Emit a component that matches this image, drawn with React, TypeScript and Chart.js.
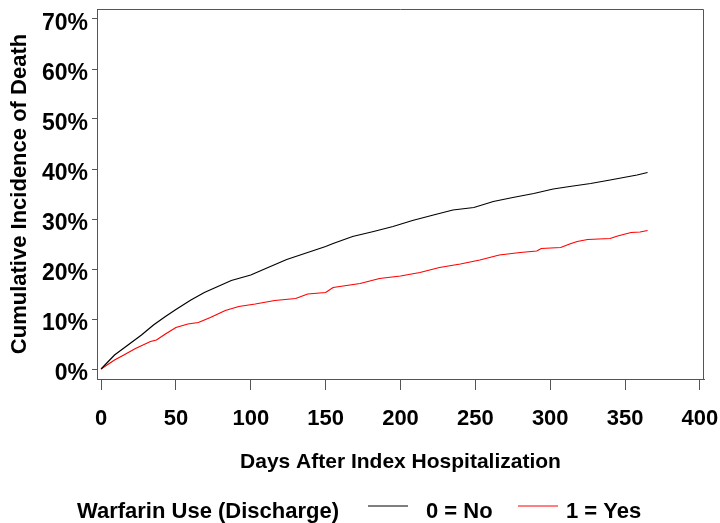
import React, { useEffect, useRef } from "react";
import { Chart, registerables } from "chart.js";

Chart.register(...registerables);

// Series: 0 = No (black)
const noDays = [0, 9, 18, 27, 35, 43, 50, 60, 69, 78, 87, 100, 110, 124, 136, 150, 155, 168, 182, 195, 208, 222, 235, 249, 262, 275, 289, 302, 313, 327, 340, 349, 358, 365];
const noPct = [0, 2.8, 4.8, 6.8, 8.8, 10.5, 11.9, 13.8, 15.3, 16.5, 17.7, 18.8, 20.1, 21.9, 23.1, 24.5, 25.1, 26.5, 27.5, 28.5, 29.7, 30.8, 31.8, 32.3, 33.5, 34.3, 35.1, 36.0, 36.5, 37.1, 37.8, 38.3, 38.8, 39.3];

// Series: 1 = Yes (red)
const yesDays = [0, 9, 14, 23, 33, 37, 43, 50, 58, 65, 73, 83, 92, 103, 116, 130, 138, 150, 155, 173, 186, 200, 213, 226, 240, 253, 266, 280, 291, 294, 307, 313, 318, 325, 340, 345, 354, 360, 365];
const yesPct = [0, 1.8, 2.6, 4.1, 5.5, 5.8, 7.0, 8.3, 9.0, 9.3, 10.3, 11.7, 12.5, 13.0, 13.7, 14.1, 15.0, 15.3, 16.3, 17.1, 18.1, 18.6, 19.3, 20.3, 21.0, 21.8, 22.8, 23.3, 23.6, 24.1, 24.3, 25.0, 25.5, 25.9, 26.1, 26.6, 27.3, 27.4, 27.7];

const seriesLabels = ["0 = No", "1 = Yes"];
const xTickValues = [0, 50, 100, 150, 200, 250, 300, 350, 400];
const yTickValues = [0, 10, 20, 30, 40, 50, 60, 70];

const legendTitle = "Warfarin Use (Discharge)";
const xTitle = "Days After Index Hospitalization";
const yTitle = "Cumulative Incidence of Death";

const FONT = '"Liberation Sans", Arial, Helvetica, sans-serif';
const AXIS_COLOR = "#555555";

const toPoints = (xs: number[], ys: number[]) => xs.map((x, i) => ({ x, y: ys[i] }));

const framePlugin = {
  id: "frame",
  afterDraw(chart: any) {
    const { ctx, chartArea: a } = chart;
    ctx.save();
    ctx.strokeStyle = AXIS_COLOR;
    ctx.lineWidth = 1;
    ctx.beginPath();
    ctx.moveTo(Math.round(a.left) + 0.5, Math.round(a.top) + 0.5);
    ctx.lineTo(Math.round(a.right) - 0.5, Math.round(a.top) + 0.5);
    ctx.lineTo(Math.round(a.right) - 0.5, Math.round(a.bottom) + 0.5);
    ctx.stroke();
    ctx.restore();
  },
};

const rowLegendPlugin = {
  id: "rowLegend",
  afterDraw(chart: any) {
    const ctx = chart.ctx;
    const baseline = 518;
    const lineY = 506;
    ctx.save();
    ctx.font = `bold 22px ${FONT}`;
    ctx.fillStyle = "#000";
    ctx.textAlign = "left";
    ctx.textBaseline = "alphabetic";
    ctx.fillText(legendTitle, 77, baseline);
    const slots = [
      { lineX: 368, textX: 426 },
      { lineX: 518, textX: 566 },
    ];
    chart.data.datasets.forEach((ds: any, i: number) => {
      const s = slots[i];
      ctx.strokeStyle = ds.borderColor;
      ctx.lineWidth = 1;
      ctx.beginPath();
      ctx.moveTo(s.lineX, lineY);
      ctx.lineTo(s.lineX + 40, lineY);
      ctx.stroke();
      ctx.fillText(ds.label, s.textX, baseline);
    });
    ctx.restore();
  },
};

export default function App() {
  const canvasRef = useRef<HTMLCanvasElement | null>(null);

  useEffect(() => {
    if (!canvasRef.current) return;
    const chart = new Chart(canvasRef.current, {
      type: "line",
      data: {
        datasets: [
          {
            label: seriesLabels[0],
            data: toPoints(noDays, noPct),
            borderColor: "#000000",
            borderWidth: 1.2,
            pointRadius: 0,
            tension: 0,
            fill: false,
          },
          {
            label: seriesLabels[1],
            data: toPoints(yesDays, yesPct),
            borderColor: "#ff0000",
            borderWidth: 1.2,
            pointRadius: 0,
            tension: 0,
            fill: false,
          },
        ],
      },
      options: {
        animation: false,
        responsive: false,
        maintainAspectRatio: false,
        layout: { padding: { left: 0, top: 9, right: 16, bottom: 0 } },
        plugins: {
          legend: { display: false },
          tooltip: { enabled: false },
        },
        scales: {
          x: {
            type: "linear",
            min: -2.7,
            max: 402.7,
            afterBuildTicks: (s: any) => {
              s.ticks = xTickValues.map((v) => ({ value: v }));
            },
            afterFit: (s: any) => {
              s.height = 144;
              s.paddingLeft = 0;
              s.paddingRight = 0;
            },
            ticks: {
              font: { size: 22, weight: "bold", family: FONT },
              color: "#000",
              padding: 16,
              maxRotation: 0,
              autoSkip: false,
            },
            grid: {
              drawOnChartArea: false,
              drawTicks: true,
              tickLength: 11,
              color: AXIS_COLOR,
            },
            border: { display: true, color: AXIS_COLOR },
            title: {
              display: true,
              text: xTitle,
              font: { size: 21, weight: "bold", family: FONT },
              color: "#000",
              padding: { top: 0, bottom: 48 },
            },
          },
          y: {
            type: "linear",
            min: -2,
            max: 72,
            afterBuildTicks: (s: any) => {
              s.ticks = yTickValues.map((v) => ({ value: v }));
            },
            afterFit: (s: any) => {
              s.width = 97;
              s.paddingTop = 0;
              s.paddingBottom = 0;
            },
            ticks: {
              callback: (v: any) => `${v}%`,
              font: { size: 23, weight: "bold", family: FONT },
              color: "#000",
              padding: 4,
              labelOffset: 5,
              autoSkip: false,
            },
            grid: {
              drawOnChartArea: false,
              drawTicks: true,
              tickLength: 5,
              color: AXIS_COLOR,
            },
            border: { display: true, color: AXIS_COLOR },
            title: {
              display: true,
              text: yTitle,
              font: { size: 22, weight: "bold", family: FONT },
              color: "#000",
              padding: { top: 7, bottom: 0 },
            },
          },
        },
      },
      plugins: [framePlugin, rowLegendPlugin],
    });
    return () => chart.destroy();
  }, []);

  return (
    <div style={{ position: "absolute", left: 0, top: 0, width: 720, height: 523 }}>
      <canvas ref={canvasRef} width={720} height={523} />
    </div>
  );
}
